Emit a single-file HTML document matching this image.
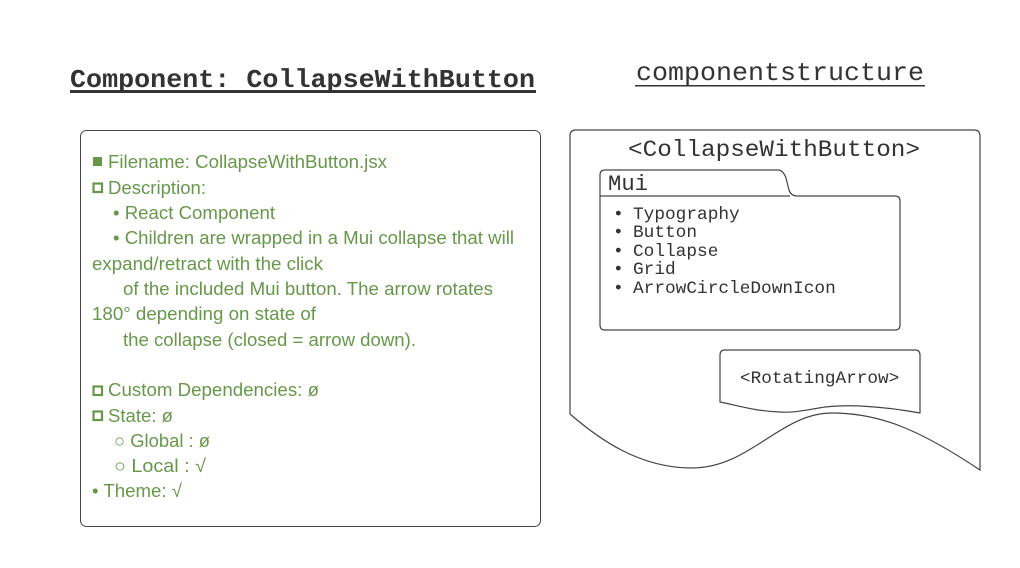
<!DOCTYPE html>
<html><head><meta charset="utf-8"><style>
html,body{margin:0;padding:0;background:#fff}
svg{display:block}
.g{font-family:"Liberation Sans",sans-serif;font-size:18.5px;fill:#67984a}
.m{font-family:"Liberation Mono",monospace;fill:#333}
</style></head><body>
<svg width="1020" height="568" viewBox="0 0 1020 568" xmlns="http://www.w3.org/2000/svg">
<rect width="1020" height="568" fill="#fff"/>
<text class="m" x="70" y="87" font-size="26" font-weight="bold" textLength="465" lengthAdjust="spacingAndGlyphs">Component: CollapseWithButton</text>
<rect x="70" y="90" width="466" height="3" fill="#333"/>
<text class="m" x="636" y="80" font-size="26" textLength="288" lengthAdjust="spacingAndGlyphs">componentstructure</text>
<rect x="635" y="85" width="290" height="1.5" fill="#333"/>

<rect x="80.5" y="130.5" width="460" height="396" rx="6" fill="#fff" stroke="#444" stroke-width="1"/>
<rect x="93" y="157" width="9" height="9" fill="#67984a"/>
<text class="g" x="108" y="168" textLength="279" lengthAdjust="spacingAndGlyphs">Filename: CollapseWithButton.jsx</text>
<rect x="93.5" y="183.5" width="8.5" height="8.5" fill="none" stroke="#67984a" stroke-width="2.2"/>
<text class="g" x="108" y="194" textLength="98" lengthAdjust="spacingAndGlyphs">Description:</text>
<text class="g" x="113" y="219" textLength="162" lengthAdjust="spacingAndGlyphs">• React Component</text>
<text class="g" x="113" y="244" textLength="401" lengthAdjust="spacingAndGlyphs">• Children are wrapped in a Mui collapse that will</text>
<text class="g" x="92" y="270" textLength="231" lengthAdjust="spacingAndGlyphs">expand/retract with the click</text>
<text class="g" x="123" y="295" textLength="370" lengthAdjust="spacingAndGlyphs">of the included Mui button. The arrow rotates</text>
<text class="g" x="92" y="320" textLength="224" lengthAdjust="spacingAndGlyphs">180° depending on state of</text>
<text class="g" x="123" y="346" textLength="293" lengthAdjust="spacingAndGlyphs">the collapse (closed = arrow down).</text>
<rect x="93.5" y="386.5" width="8.5" height="8.5" fill="none" stroke="#67984a" stroke-width="2.2"/>
<text class="g" x="108" y="396" textLength="211" lengthAdjust="spacingAndGlyphs">Custom Dependencies: ø</text>
<rect x="93.5" y="411.5" width="8.5" height="8.5" fill="none" stroke="#67984a" stroke-width="2.2"/>
<text class="g" x="108" y="422" textLength="65" lengthAdjust="spacingAndGlyphs">State: ø</text>
<text class="g" x="114" y="447" textLength="96" lengthAdjust="spacingAndGlyphs">○ Global : ø</text>
<text class="g" x="114" y="472" textLength="92" lengthAdjust="spacingAndGlyphs">○ Local  : √</text>
<text class="g" x="92" y="497" textLength="90" lengthAdjust="spacingAndGlyphs">• Theme: √</text>

<path d="M570,136 Q570,130 576,130 L974,130 Q980,130 980,136 L980,470 C920,430 880,413 832,413 C780,413 750,468 692,468 C640,468 600,440 570,414 Z" fill="#fff" stroke="#444" stroke-width="1.2"/>
<text class="m" x="628" y="156" font-size="23" textLength="292" lengthAdjust="spacingAndGlyphs">&lt;CollapseWithButton&gt;</text>

<path d="M600,196 L600,175 Q600,170 605,170 L778,170 Q783,170 786,178 L789,190 Q791,196 797,196 L895,196 Q900,196 900,201 L900,325 Q900,330 895,330 L605,330 Q600,330 600,325 Z" fill="#fff" stroke="#444" stroke-width="1.2"/>
<line x1="600" y1="196" x2="790" y2="196" stroke="#444" stroke-width="1.2"/>
<text class="m" x="608" y="190" font-size="22" textLength="40" lengthAdjust="spacingAndGlyphs">Mui</text>
<g class="m" font-size="17.8">
<text x="613" y="219">•</text><text x="633" y="219">Typography</text>
<text x="613" y="237">•</text><text x="633" y="237">Button</text>
<text x="613" y="256">•</text><text x="633" y="256">Collapse</text>
<text x="613" y="274">•</text><text x="633" y="274">Grid</text>
<text x="613" y="293">•</text><text x="633" y="293">ArrowCircleDownIcon</text>
</g>

<path d="M720,355 Q720,350 725,350 L915,350 Q920,350 920,355 L920,413 C880,406 850,404 825,407 C805,410 795,413 780,412 C755,411 740,406 720,402 Z" fill="#fff" stroke="#444" stroke-width="1.2"/>
<text class="m" x="740" y="383" font-size="17.7">&lt;RotatingArrow&gt;</text>
</svg>
</body></html>
